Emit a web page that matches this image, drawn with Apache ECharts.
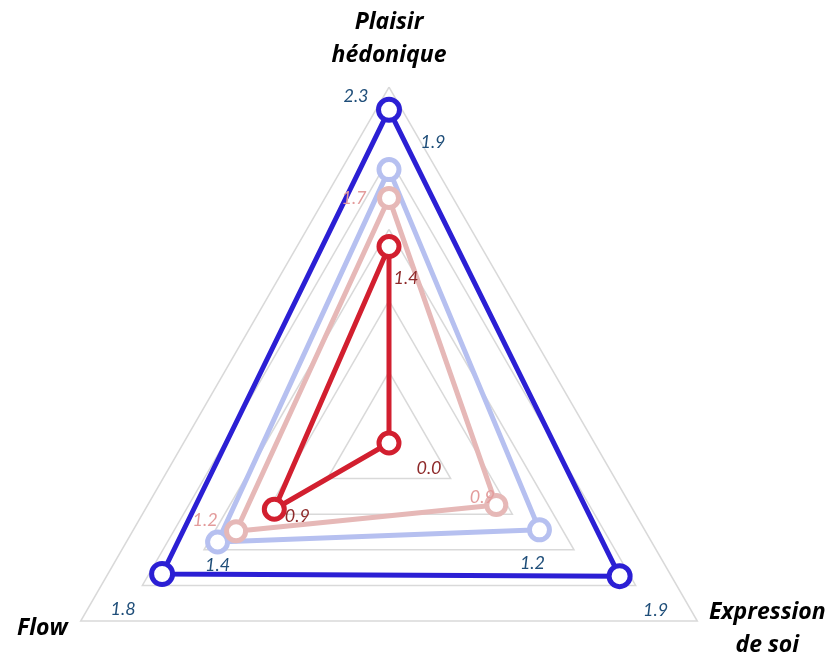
<!DOCTYPE html>
<html>
<head>
<meta charset="utf-8">
<script src="https://cdn.jsdelivr.net/npm/echarts@6/dist/echarts.min.js"></script>
<style>
  html, body { margin: 0; padding: 0; background: #fff; }
  #radar { width: 834px; height: 657px; }
</style>
</head>
<body>
<div id="radar"></div>
<script>
// axes (ECharts radar goes counter-clockwise from the top)
const indicatorNames = ['Plaisir\nhédonique', 'Flow', 'Expression\nde soi']
const axisMax = 2.5

// series values, same order as indicatorNames
const darkBlueValues = [2.34, 1.84, 1.87]
const lightBlueValues = [1.92, 1.39, 1.22]
const pinkValues = [1.72, 1.24, 0.87]
const redValues = [1.38, 0.93, 0.0]

// where each data label sits relative to its point [dx, dy]
const darkBlueLabelPos = [[-33, -14], [-39, 35], [36, 34]]
const lightBlueLabelPos = [[44, -27], [0, 23], [-7, 33]]
const pinkLabelPos = [[-35, 0], [-31, -11], [-14, -8]]
const redLabelPos = [[17, 32], [23, 7], [40, 25]]

const LABEL_FONT = 'Lato, "Open Sans", sans-serif'
const NAME_FONT = '"Open Sans", Lato, sans-serif'

const nameStyle = {
  color: '#000',
  fontSize: 23,
  fontWeight: 'bold',
  fontStyle: 'italic',
  fontFamily: NAME_FONT,
  lineHeight: 33
}

function labelRich(offsets, color) {
  const rich = {}
  offsets.forEach(function(o, i) {
    const dx = o[0]
    const dy = o[1]
    rich['d' + i] = {
      color: color,
      fontSize: 18,
      fontStyle: 'italic',
      fontFamily: LABEL_FONT,
      padding: [dy > 0 ? 2 * dy : 0, dx < 0 ? -2 * dx : 0, dy < 0 ? -2 * dy : 0, dx > 0 ? 2 * dx : 0]
    }
  })
  return rich
}

function radarSeries(name, values, color, lineWidth, symbolSize, labelPos, labelColor) {
  return {
    name: name,
    type: 'radar',
    data: [{
      name: name,
      value: values,
      symbol: 'circle',
      symbolSize: symbolSize,
      itemStyle: { color: '#fff', borderColor: color, borderWidth: 5 },
      lineStyle: { color: color, width: lineWidth },
      label: {
        show: true,
        position: 'inside',
        formatter: function(p) {
          return '{d' + p.dimensionIndex + '|' + Number(p.value).toFixed(1) + '}'
        },
        rich: labelRich(labelPos, labelColor)
      }
    }]
  }
}

const chart = echarts.init(document.getElementById('radar'))
chart.setOption({
  animation: false,
  backgroundColor: '#fff',
  radar: {
    center: [389, 443],
    radius: 356,
    startAngle: 90,
    shape: 'polygon',
    splitNumber: 5,
    axisNameGap: 15,
    indicator: indicatorNames.map(function(n) { return { name: n, min: 0, max: axisMax } }),
    axisName: Object.assign({}, nameStyle, {
      // multi-line names on the side axes are centred line by line
      formatter: function(name) {
        if (name.indexOf('Expression') === 0) {
          return name.split('\n').map(function(s) { return '{c|' + s + '}' }).join('\n')
        }
        return name
      },
      rich: { c: Object.assign({}, nameStyle, { width: 114, align: 'center' }) }
    }),
    splitLine: { lineStyle: { color: '#d9d9d9', width: 1.5 } },
    splitArea: { show: false },
    axisLine: { show: false },
    axisTick: { show: false },
    axisLabel: { show: false }
  },
  series: [
    radarSeries('dark', darkBlueValues, '#2b1fd4', 5, 21, darkBlueLabelPos, '#1f4e79'),
    radarSeries('light', lightBlueValues, '#b6c0f0', 5, 20, lightBlueLabelPos, '#1f4e79'),
    radarSeries('pink', pinkValues, '#e6b8b7', 5, 19, pinkLabelPos, '#e39c9c'),
    radarSeries('red', redValues, '#d21f2f', 5, 20, redLabelPos, '#8e2a2a')
  ]
})
</script>
</body>
</html>
